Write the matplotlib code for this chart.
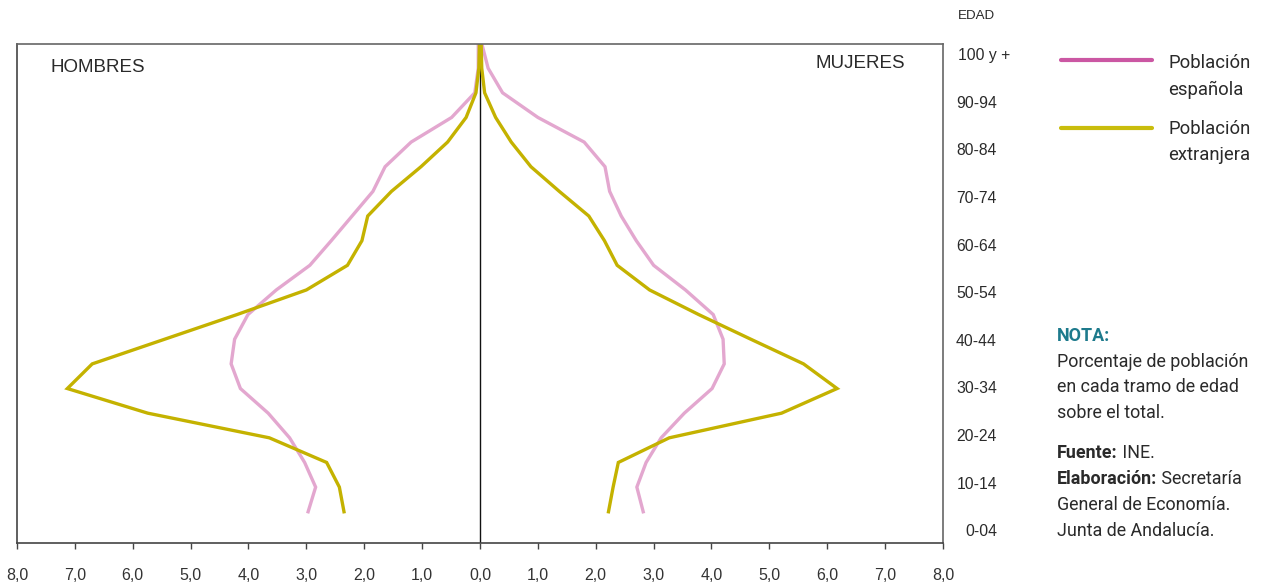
import matplotlib
matplotlib.use("Agg")
import matplotlib.pyplot as plt
from matplotlib.lines import Line2D
import numpy as np

# ---------------- data ----------------
age_groups = ["0-04", "5-09", "10-14", "15-19", "20-24", "25-29", "30-34", "35-39",
              "40-44", "45-49", "50-54", "55-59", "60-64", "65-69", "70-74", "75-79",
              "80-84", "85-89", "90-94", "95 y +"]
age_tick_labels = ["0-04", "10-14", "20-24", "30-34", "40-44", "50-54",
                   "60-64", "70-74", "80-84", "90-94", "100 y +"]

hombres_espanola = [2.97, 2.84, 3.03, 3.29, 3.66, 4.14, 4.30, 4.24, 4.01, 3.52,
                    2.94, 2.57, 2.21, 1.85, 1.64, 1.19, 0.49, 0.09, 0.03, 0.03]
hombres_extranjera = [2.35, 2.43, 2.65, 3.64, 5.74, 7.13, 6.70, 5.45, 4.20, 3.00,
                      2.29, 2.04, 1.94, 1.53, 1.02, 0.56, 0.24, 0.07, 0.02, 0.01]
mujeres_espanola = [2.82, 2.71, 2.87, 3.13, 3.53, 4.01, 4.22, 4.20, 4.03, 3.55,
                    3.00, 2.70, 2.44, 2.24, 2.16, 1.80, 1.00, 0.39, 0.14, 0.03]
mujeres_extranjera = [2.22, 2.30, 2.39, 3.27, 5.21, 6.17, 5.59, 4.68, 3.78, 2.93,
                      2.37, 2.15, 1.88, 1.37, 0.88, 0.54, 0.27, 0.08, 0.03, 0.02]

x_ticks = [-8, -7, -6, -5, -4, -3, -2, -1, 0, 1, 2, 3, 4, 5, 6, 7, 8]

# ---------------- style ----------------
W, H = 1267, 583
PINK = "#e3a7cf"
OLIVE = "#c4b200"
PINK_LEG = "#cb57a3"
OLIVE_LEG = "#c9bd0c"
TXT = "#2a2a2a"
TEAL = "#1d7a8c"
BASE_FONT = ["Liberation Sans", "DejaVu Sans"]
NARROW_FONT = ["Roboto", "DejaVu Sans"]
plt.rcParams["font.family"] = BASE_FONT

fig = plt.figure(figsize=(W / 100, H / 100), dpi=100)

def fx(px):
    return px / W

def fy(py):
    return 1 - py / H

ax_l, ax_r, ax_t, ax_b = 17, 943, 43.5, 543.3
ax = fig.add_axes([fx(ax_l), fy(ax_b), fx(ax_r - ax_l), (ax_b - ax_t) / H])

y = np.arange(len(age_groups))
lw = 2.4
ax.plot(-np.array(hombres_espanola), y, color=PINK, lw=lw, solid_joinstyle="miter")
ax.plot(np.array(mujeres_espanola), y, color=PINK, lw=lw, solid_joinstyle="miter")
ax.plot(-np.array(hombres_extranjera), y, color=OLIVE, lw=lw, solid_joinstyle="miter")
ax.plot(np.array(mujeres_extranjera), y, color=OLIVE, lw=lw, solid_joinstyle="miter")

ax.axvline(0, color="#111111", lw=1.0, zorder=1)

ax.set_xlim(-8, 8)
ax.set_ylim(-1.28, 19.0)
ax.set_yticks([])
ax.set_xticks(x_ticks)
ax.set_xticklabels([f"{abs(v):.1f}".replace(".", ",") for v in x_ticks],
                   fontsize=11.5, color="#333333")
ax.tick_params(axis="x", direction="out", length=4, width=1, color="#444444", pad=14)
for side, sp in ax.spines.items():
    sp.set_linewidth(1.2)
    sp.set_color("#444444" if side in ("left", "bottom") else "#666666")

fig.text(fx(50), fy(67), "HOMBRES", fontsize=13.5, color=TXT, va="center", ha="left")
fig.text(fx(905), fy(64), "MUJERES", fontsize=13.5, color=TXT, va="center", ha="right")

# age labels on the right
fig.text(fx(958), fy(16), "EDAD", fontsize=9.6, color=TXT, va="center", ha="left")
for k, lab in enumerate(age_tick_labels):
    yc = 531.7 - 23.8 * 2 * k
    if lab == "100 y +":
        fig.text(fx(958), fy(yc), lab, fontsize=11.3, color=TXT, va="center", ha="left")
    else:
        fig.text(fx(997), fy(yc), lab, fontsize=11.3, color=TXT, va="center", ha="right")

# legend
fig.add_artist(Line2D([fx(1061), fx(1152)], [fy(60.3), fy(60.3)], color=PINK_LEG,
                      lw=3.0, solid_capstyle="round"))
fig.add_artist(Line2D([fx(1061), fx(1152)], [fy(128), fy(128)], color=OLIVE_LEG,
                      lw=3.0, solid_capstyle="round"))
leg_lines = [("Población", 68.3), ("española", 95.0), ("Población", 134.0), ("extranjera", 160.0)]
for t, yb in leg_lines:
    fig.text(fx(1168), fy(yb), t, fontsize=13.3, color=TXT, va="baseline", ha="left",
             family=NARROW_FONT)

# note block
nx = 1057
fs_note = 12.9
fig.text(fx(nx), fy(340.7), "NOTA:", fontsize=fs_note, color=TEAL, fontweight="bold",
         va="baseline", ha="left", family=NARROW_FONT)
for t, yb in [("Porcentaje de población", 366.7), ("en cada tramo de edad", 392.5),
              ("sobre el total.", 418.5)]:
    fig.text(fx(nx), fy(yb), t, fontsize=fs_note, color=TXT, va="baseline", ha="left",
             family=NARROW_FONT)

renderer = fig.canvas.get_renderer()

def mixed(yb, bold, rest):
    tb = fig.text(fx(nx), fy(yb), bold, fontsize=fs_note, color=TXT, fontweight="bold",
                  va="baseline", ha="left", family=NARROW_FONT)
    bb = tb.get_window_extent(renderer=renderer)
    fig.text(bb.x1 / W, fy(yb), rest, fontsize=fs_note, color=TXT,
             va="baseline", ha="left", family=NARROW_FONT)

mixed(458.3, "Fuente:", " INE.")
mixed(484.5, "Elaboración:", " Secretaría")
fig.text(fx(nx), fy(510), "General de Economía.", fontsize=fs_note, color=TXT,
         va="baseline", ha="left", family=NARROW_FONT)
fig.text(fx(nx), fy(535.5), "Junta de Andalucía.", fontsize=fs_note, color=TXT,
         va="baseline", ha="left", family=NARROW_FONT)

fig.savefig("out.png", dpi=100)
